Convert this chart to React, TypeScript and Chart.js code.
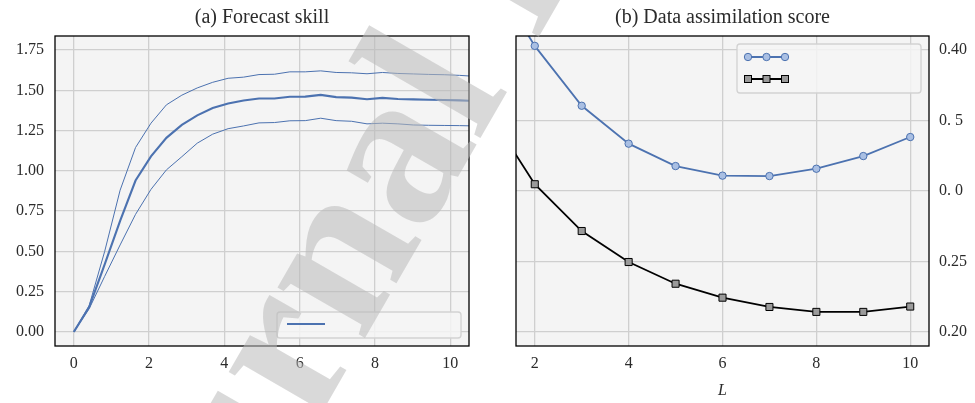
import { useEffect, useRef } from 'react';
import { Chart, registerables } from 'chart.js';

Chart.register(...registerables);

// ---- (a) Forecast skill ----
const leadTimes = [0, 0.41, 0.82, 1.23, 1.64, 2.05, 2.46, 2.87, 3.28, 3.69, 4.1, 4.51, 4.92, 5.33, 5.74, 6.15, 6.56, 6.97, 7.38, 7.79, 8.2, 8.61, 9.02, 9.43, 9.84, 10.25, 10.66];
const skillMean = [0, 0.155, 0.42, 0.69, 0.94, 1.09, 1.205, 1.285, 1.345, 1.39, 1.418, 1.437, 1.449, 1.449, 1.46, 1.461, 1.472, 1.458, 1.455, 1.445, 1.453, 1.446, 1.444, 1.442, 1.44, 1.438, 1.434];
const skillUpper = [0, 0.165, 0.5, 0.88, 1.145, 1.296, 1.41, 1.47, 1.515, 1.55, 1.575, 1.582, 1.598, 1.6, 1.615, 1.615, 1.621, 1.611, 1.609, 1.603, 1.611, 1.605, 1.602, 1.599, 1.597, 1.593, 1.587];
const skillLower = [0, 0.145, 0.345, 0.54, 0.73, 0.885, 1.006, 1.088, 1.172, 1.228, 1.262, 1.279, 1.298, 1.3, 1.311, 1.312, 1.327, 1.312, 1.308, 1.292, 1.296, 1.292, 1.285, 1.283, 1.282, 1.281, 1.279];
const skillXTicks = [0, 2, 4, 6, 8, 10];
const skillYTicks = [0, 0.25, 0.5, 0.75, 1.0, 1.25, 1.5, 1.75];

// ---- (b) Data assimilation score ----
const windowLengths = [1, 2, 3, 4, 5, 6, 7, 8, 9, 10];
const scoreBlue = [0.457, 0.403, 0.3605, 0.3336, 0.3177, 0.3109, 0.3106, 0.3158, 0.3248, 0.3383];
const scoreBlack = [0.357, 0.3048, 0.2716, 0.2496, 0.2342, 0.2243, 0.2177, 0.2142, 0.2142, 0.218];
const scoreXTicks = [2, 4, 6, 8, 10];
const scoreYTicks = [0.2, 0.25, 0.3, 0.35, 0.4];
const scoreYLabels = ['0.20', '0.25', '0. 0', '0. 5', '0.40'];

const SERIF = '"Liberation Serif", "Times New Roman", serif';
const TEXT = '#2b2b2b';
const BLUE = '#4c72b0';
const GRID = '#cfcfcf';
const PANEL_BG = '#f4f4f4';

const panelBackground = {
  id: 'panelBackground',
  beforeDraw(chart: any) {
    const { ctx, chartArea: a } = chart;
    ctx.save();
    ctx.fillStyle = PANEL_BG;
    ctx.fillRect(a.left, a.top, a.right - a.left, a.bottom - a.top);
    ctx.restore();
  },
};

const panelFrame = {
  id: 'panelFrame',
  afterDatasetsDraw(chart: any) {
    const { ctx, chartArea: a } = chart;
    ctx.save();
    ctx.strokeStyle = '#000';
    ctx.lineWidth = 1.3;
    ctx.strokeRect(a.left, a.top, a.right - a.left, a.bottom - a.top);
    ctx.restore();
  },
};

function panelTitle(text: string) {
  return {
    id: 'panelTitle',
    afterDraw(chart: any) {
      const { ctx, chartArea: a } = chart;
      ctx.save();
      ctx.font = `20px ${SERIF}`;
      ctx.fillStyle = TEXT;
      ctx.textAlign = 'center';
      ctx.textBaseline = 'alphabetic';
      ctx.fillText(text, (a.left + a.right) / 2, 23);
      ctx.restore();
    },
  };
}

function legendBox(ctx: CanvasRenderingContext2D, x: number, y: number, w: number, h: number) {
  const r = 3;
  ctx.beginPath();
  ctx.moveTo(x + r, y);
  ctx.lineTo(x + w - r, y);
  ctx.quadraticCurveTo(x + w, y, x + w, y + r);
  ctx.lineTo(x + w, y + h - r);
  ctx.quadraticCurveTo(x + w, y + h, x + w - r, y + h);
  ctx.lineTo(x + r, y + h);
  ctx.quadraticCurveTo(x, y + h, x, y + h - r);
  ctx.lineTo(x, y + r);
  ctx.quadraticCurveTo(x, y, x + r, y);
  ctx.closePath();
  ctx.fillStyle = 'rgba(244,244,244,0.85)';
  ctx.fill();
  ctx.strokeStyle = '#d2d2d2';
  ctx.lineWidth = 1.3;
  ctx.stroke();
}

const skillLegend = {
  id: 'skillLegend',
  afterDatasetsDraw(chart: any) {
    const { ctx } = chart;
    ctx.save();
    legendBox(ctx, 277, 312, 184, 26);
    ctx.strokeStyle = BLUE;
    ctx.lineWidth = 2;
    ctx.beginPath();
    ctx.moveTo(287, 324);
    ctx.lineTo(325, 324);
    ctx.stroke();
    ctx.restore();
  },
};

const scoreLegend = {
  id: 'scoreLegend',
  afterDatasetsDraw(chart: any) {
    const { ctx } = chart;
    ctx.save();
    legendBox(ctx, 247, 44, 184, 49);
    const xs = [258, 276.5, 295];
    // circles entry
    ctx.strokeStyle = BLUE;
    ctx.lineWidth = 1.8;
    ctx.beginPath();
    ctx.moveTo(xs[0], 57);
    ctx.lineTo(xs[2], 57);
    ctx.stroke();
    ctx.lineWidth = 1;
    for (const x of xs) {
      ctx.beginPath();
      ctx.arc(x, 57, 3.7, 0, Math.PI * 2);
      ctx.fillStyle = '#a9bfe3';
      ctx.fill();
      ctx.stroke();
    }
    // squares entry
    ctx.strokeStyle = '#000';
    ctx.lineWidth = 1.8;
    ctx.beginPath();
    ctx.moveTo(xs[0], 79);
    ctx.lineTo(xs[2], 79);
    ctx.stroke();
    ctx.lineWidth = 1;
    for (const x of xs) {
      ctx.fillStyle = '#9a9a9a';
      ctx.fillRect(x - 3.5, 79 - 3.5, 7, 7);
      ctx.strokeRect(x - 3.5, 79 - 3.5, 7, 7);
    }
    ctx.restore();
  },
};

// Diagonal "Journal Pre-proof" stamp; origin given in page coordinates
function stamp(offsetX: number) {
  return {
    id: 'stamp',
    afterDraw(chart: any) {
      const { ctx } = chart;
      const theta = (60 * Math.PI) / 180;
      ctx.save();
      ctx.font = `bold 220px ${SERIF}`;
      ctx.translate(142 - offsetX, 724);
      ctx.rotate(-theta);
      ctx.fillStyle = 'rgba(185,185,185,0.55)';
      ctx.textBaseline = 'alphabetic';
      ctx.textAlign = 'left';
      ctx.fillText('Journal Pre-proof', 0, 0);
      ctx.restore();
    },
  };
}

const tickFont = { family: SERIF, size: 16 };

function ForecastSkill() {
  const ref = useRef<HTMLCanvasElement>(null);
  useEffect(() => {
    if (!ref.current) return;
    const toPts = (ys: number[]) => leadTimes.map((x, i) => ({ x, y: ys[i] }));
    const chart = new Chart(ref.current, {
      type: 'line',
      data: {
        datasets: [
          { data: toPts(skillUpper), borderColor: BLUE, borderWidth: 1, pointRadius: 0, tension: 0 },
          { data: toPts(skillLower), borderColor: BLUE, borderWidth: 1, pointRadius: 0, tension: 0 },
          { data: toPts(skillMean), borderColor: BLUE, borderWidth: 2.1, pointRadius: 0, tension: 0 },
        ],
      },
      options: {
        animation: false,
        responsive: false,
        layout: { padding: { top: 36, right: 21, left: 0, bottom: 0 } },
        plugins: { legend: { display: false }, tooltip: { enabled: false }, title: { display: false } },
        scales: {
          x: {
            type: 'linear',
            min: -0.5,
            max: 10.5,
            afterBuildTicks: (s: any) => { s.ticks = skillXTicks.map((v) => ({ value: v })); },
            afterFit: (s: any) => { s.height = 57; },
            grid: { color: GRID, lineWidth: 1.3, drawTicks: false },
            border: { display: false },
            ticks: { padding: 8, font: tickFont, color: TEXT, autoSkip: false, maxRotation: 0, callback: (v: any) => String(v) },
          },
          y: {
            type: 'linear',
            min: -0.0875,
            max: 1.8375,
            afterBuildTicks: (s: any) => { s.ticks = skillYTicks.map((v) => ({ value: v })); },
            afterFit: (s: any) => { s.width = 55; },
            grid: { color: GRID, lineWidth: 1.3, drawTicks: false },
            border: { display: false },
            ticks: { padding: 11, font: tickFont, color: TEXT, autoSkip: false, callback: (v: any) => Number(v).toFixed(2) },
          },
        },
      } as any,
      plugins: [panelBackground, panelFrame, skillLegend, panelTitle('(a) Forecast skill'), stamp(0)],
    });
    return () => chart.destroy();
  }, []);
  return <canvas ref={ref} width={490} height={403} style={{ position: 'absolute', left: 0, top: 0, width: 490, height: 403 }} />;
}

function AssimilationScore() {
  const ref = useRef<HTMLCanvasElement>(null);
  useEffect(() => {
    if (!ref.current) return;
    const toPts = (ys: number[]) => windowLengths.map((x, i) => ({ x, y: ys[i] }));
    const chart = new Chart(ref.current, {
      type: 'line',
      data: {
        datasets: [
          {
            data: toPts(scoreBlue),
            borderColor: BLUE,
            borderWidth: 1.8,
            tension: 0,
            pointStyle: 'circle',
            pointRadius: 3.7,
            pointBackgroundColor: '#a9bfe3',
            pointBorderColor: BLUE,
            pointBorderWidth: 1,
            yAxisID: 'y',
          },
          {
            data: toPts(scoreBlack),
            borderColor: '#000',
            borderWidth: 1.8,
            tension: 0,
            pointStyle: 'rect',
            pointRadius: 5,
            pointBackgroundColor: '#9a9a9a',
            pointBorderColor: '#000',
            pointBorderWidth: 1,
            yAxisID: 'y',
          },
        ],
      },
      options: {
        animation: false,
        responsive: false,
        layout: { padding: { top: 36, right: 0, left: 26, bottom: 0 } },
        plugins: { legend: { display: false }, tooltip: { enabled: false }, title: { display: false } },
        scales: {
          x: {
            type: 'linear',
            min: 1.6,
            max: 10.4,
            afterBuildTicks: (s: any) => { s.ticks = scoreXTicks.map((v) => ({ value: v })); },
            afterFit: (s: any) => { s.height = 57; },
            grid: { color: GRID, lineWidth: 1.3, drawTicks: false },
            border: { display: false },
            ticks: { padding: 8, font: tickFont, color: TEXT, autoSkip: false, maxRotation: 0, callback: (v: any) => String(v) },
            title: { display: true, text: 'L', color: TEXT, font: { family: SERIF, size: 16, style: 'italic' }, padding: { top: 0, bottom: 3 } },
          },
          y: {
            type: 'linear',
            position: 'right',
            min: 0.19,
            max: 0.41,
            afterBuildTicks: (s: any) => { s.ticks = scoreYTicks.map((v) => ({ value: v })); },
            afterFit: (s: any) => { s.width = 46; },
            grid: { color: GRID, lineWidth: 1.3, drawTicks: false },
            border: { display: false },
            ticks: {
              padding: 10,
              font: tickFont,
              color: TEXT,
              autoSkip: false,
              callback: (v: any) => {
                const i = scoreYTicks.findIndex((t) => Math.abs(t - Number(v)) < 1e-9);
                return i >= 0 ? scoreYLabels[i] : '';
              },
            },
          },
        },
      } as any,
      plugins: [panelBackground, panelFrame, scoreLegend, panelTitle('(b) Data assimilation score'), stamp(490)],
    });
    return () => chart.destroy();
  }, []);
  return <canvas ref={ref} width={485} height={403} style={{ position: 'absolute', left: 490, top: 0, width: 485, height: 403 }} />;
}

export default function App() {
  return (
    <div style={{ position: 'fixed', left: 0, top: 0, width: 975, height: 403, background: '#fff', overflow: 'hidden' }}>
      <ForecastSkill />
      <AssimilationScore />
    </div>
  );
}
